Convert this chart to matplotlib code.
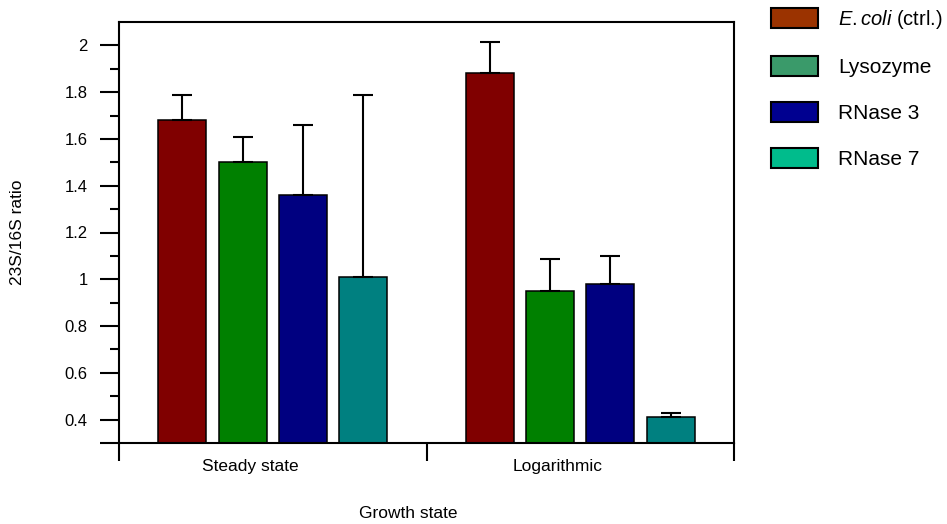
import matplotlib
matplotlib.use("Agg")
import matplotlib.pyplot as plt
from matplotlib.patches import Patch
import numpy as np

plt.rcParams['font.family'] = ['Liberation Sans', 'DejaVu Sans']
plt.rcParams['mathtext.fontset'] = 'custom'
plt.rcParams['mathtext.it'] = 'Liberation Sans:italic'
plt.rcParams['mathtext.rm'] = 'Liberation Sans'

# ---- data ----
groups = ["Steady state", "Logarithmic"]
series = ["E.coli (ctrl.)", "Lysozyme", "RNase 3", "RNase 7"]
values = {
    "E.coli (ctrl.)": [1.68, 1.88],
    "Lysozyme": [1.50, 0.95],
    "RNase 3": [1.36, 0.98],
    "RNase 7": [1.01, 0.41],
}
upper_err = {
    "E.coli (ctrl.)": [0.11, 0.135],
    "Lysozyme": [0.11, 0.135],
    "RNase 3": [0.30, 0.12],
    "RNase 7": [0.78, 0.02],
}
bar_colors = ["#800000", "#008000", "#000080", "#008080"]
legend_colors = ["#9B3300", "#3A9A6A", "#000090", "#00BC8C"]
legend_labels = [r"$\it{E.coli}$ (ctrl.)", "Lysozyme", "RNase 3", "RNase 7"]
y_ticks = [0.3, 0.4, 0.6, 0.8, 1.0, 1.2, 1.4, 1.6, 1.8, 2.0]
y_tick_labels = ["", "0.4", "0.6", "0.8", "1", "1.2", "1.4", "1.6", "1.8", "2"]
y_minor = [0.5, 0.7, 0.9, 1.1, 1.3, 1.5, 1.7, 1.9]

W, H = 947, 524
fig = plt.figure(figsize=(W / 100, H / 100), dpi=100)
ax = fig.add_axes([119 / W, 1 - 443 / H, (734 - 119) / W, (443 - 22) / H])

base = 0.3
centers = np.arange(len(groups)) + 0.5
width = 0.156
step = 0.196
for i, s in enumerate(series):
    x = centers + (i - 1.5) * step
    v = np.array(values[s])
    ax.bar(x, v - base, bottom=base, width=width, color=bar_colors[i],
           edgecolor="black", linewidth=1.1, zorder=2)
    ax.errorbar(x, v, yerr=[np.zeros_like(v), upper_err[s]], fmt="none",
                ecolor="black", elinewidth=1.5, capsize=7.5, capthick=1.5, zorder=3)

ax.set_xlim(0, 2)
ax.set_ylim(0.3, 2.1)
for sp in ax.spines.values():
    sp.set_linewidth(1.5)

ax.set_yticks(y_ticks)
ax.set_yticklabels(y_tick_labels)
ax.set_yticks(y_minor, minor=True)
ax.tick_params(axis="y", which="major", length=13.5, width=1.5, direction="out",
               labelsize=12, pad=9)
ax.tick_params(axis="y", which="minor", length=6.5, width=1.5, direction="out")

ax.set_xticks([0, 1, 2])
ax.set_xticklabels(["", "", ""])
label_shift = 0.072
ax.set_xticks(centers - label_shift, minor=True)
ax.set_xticklabels(groups, minor=True)
ax.tick_params(axis="x", which="major", length=13, width=1.5, direction="out")
ax.tick_params(axis="x", which="minor", length=0, labelsize=12.5, pad=11.5)

fig.text(408 / W, 1 - 513 / H, "Growth state", ha="center", va="center",
         fontsize=12.5)
fig.text(18 / W, 1 - 232 / H, "23S/16S ratio", ha="center", va="center",
         rotation=90, fontsize=12.5)

handles = [Patch(facecolor=c, edgecolor="black", linewidth=1.5) for c in legend_colors]
leg = fig.legend(handles, legend_labels, loc="upper left",
                 bbox_to_anchor=(771 / W, 1 - 8 / H), frameon=False, fontsize=15,
                 handlelength=2.26, handleheight=1.1, handletextpad=0.95,
                 labelspacing=1.2, borderpad=0, borderaxespad=0)
leg.get_texts()[0].set_fontsize(14.5)

fig.savefig("out.png", dpi=100)
